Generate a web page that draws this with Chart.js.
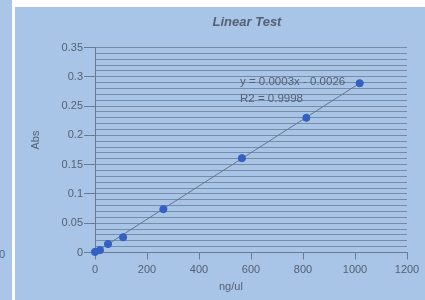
<!DOCTYPE html>
<html>
<head>
<meta charset="utf-8">
<script src="https://cdn.jsdelivr.net/npm/chart.js@4/dist/chart.umd.min.js"></script>
<style>
  html, body { margin: 0; padding: 0; background: #ffffff; width: 425px; height: 300px; overflow: hidden; }
  #left { position: absolute; left: 0; top: 0; width: 12px; height: 300px; background: #a9c5e8; overflow: hidden; }
  #left span { position: absolute; left: -1px; top: 248px; font: 11px "Liberation Sans", Arial, sans-serif; color: #5a6474; }
  #panel { position: absolute; left: 15px; top: 7px; width: 410px; height: 293px; background: #a8c4e7; }
  canvas { position: absolute; left: 0; top: 0; }
</style>
</head>
<body>
<div id="left"><span>0</span></div>
<div id="panel"><canvas id="c" width="410" height="293"></canvas></div>
<script>
// Data
const concentrations = [0, 19, 50, 108, 263, 565, 813, 1018];
const absorbance     = [0.001, 0.004, 0.0145, 0.026, 0.074, 0.161, 0.230, 0.289];
const trendX = [0, 1018];
const trendY = [0.0, 0.289];
const xTicks = [0, 200, 400, 600, 800, 1000, 1200];
const yLabels = ['0', '0.05', '0.1', '0.15', '0.2', '0.25', '0.3', '0.35'];
const chartTitle = 'Linear Test';
const equationLines = ['y = 0.0003x - 0.0026', 'R2 = 0.9998'];
const xTitle = 'ng/ul';
const yTitle = 'Abs';

const textColor = '#566172';
const gridColor = '#7a8ba5';
const FONT = '"Liberation Sans", Arial, sans-serif';

const textPlugin = {
  id: 'texts',
  afterDraw(chart) {
    const ctx = chart.ctx;
    ctx.save();
    ctx.fillStyle = textColor;
    ctx.textBaseline = 'middle';
    ctx.font = 'italic bold 13px ' + FONT;
    ctx.textAlign = 'center';
    ctx.fillText(chartTitle, 232, 15);
    ctx.font = '11.5px ' + FONT;
    ctx.textAlign = 'left';
    ctx.fillText(equationLines[0], 225, 75);
    ctx.fillText(equationLines[1], 225, 92);
    ctx.font = '11px ' + FONT;
    ctx.fillText(xTitle, 204, 280);
    ctx.translate(21, 133);
    ctx.rotate(-Math.PI / 2);
    ctx.textAlign = 'center';
    ctx.fillText(yTitle, 0, 0);
    ctx.restore();
  }
};

new Chart(document.getElementById('c'), {
  type: 'scatter',
  data: {
    datasets: [
      {
        type: 'line',
        data: trendX.map((x, i) => ({ x: x, y: trendY[i] })),
        borderColor: '#66768c',
        borderWidth: 1,
        pointRadius: 0,
        fill: false,
        tension: 0,
        clip: false,
        order: 2
      },
      {
        data: concentrations.map((x, i) => ({ x: x, y: absorbance[i] })),
        backgroundColor: '#3360c2',
        borderColor: '#3360c2',
        pointRadius: 3.6,
        clip: false,
        order: 1
      }
    ]
  },
  options: {
    responsive: false,
    animation: false,
    devicePixelRatio: 1,
    layout: { padding: { top: 40.5, right: 18, left: 0, bottom: 0 } },
    plugins: { legend: { display: false }, title: { display: false }, tooltip: { enabled: false } },
    scales: {
      x: {
        type: 'linear',
        min: 0, max: 1200,
        afterBuildTicks(scale) { scale.ticks = xTicks.map(v => ({ value: v })); },
        afterFit(scale) { scale.height = 47.5; },
        ticks: { color: textColor, font: { size: 11, family: FONT }, padding: 4, maxRotation: 0,
                 callback: (v) => String(v) },
        grid: { drawOnChartArea: false, drawTicks: true, tickLength: 7, tickColor: '#6a7a92' },
        border: { display: true, color: '#6a7a92', width: 1 }
      },
      y: {
        min: 0, max: 0.35,
        afterBuildTicks(scale) {
          const t = [];
          for (let i = 0; i <= 35; i++) t.push({ value: i / 100 });
          scale.ticks = t;
        },
        afterFit(scale) { scale.width = 80; },
        ticks: {
          autoSkip: false,
          color: textColor,
          font: { size: 11, family: FONT },
          padding: 1,
          callback: (v, i) => (i % 5 === 0 ? yLabels[i / 5] : '')
        },
        grid: {
          color: gridColor,
          lineWidth: 1,
          tickLength: 11,
          tickColor: (c) => (c.index % 5 === 0 ? '#6a7a92' : 'rgba(0,0,0,0)')
        },
        border: { display: true, color: '#6a7a92', width: 1 }
      }
    }
  },
  plugins: [textPlugin]
});
</script>
</body>
</html>
